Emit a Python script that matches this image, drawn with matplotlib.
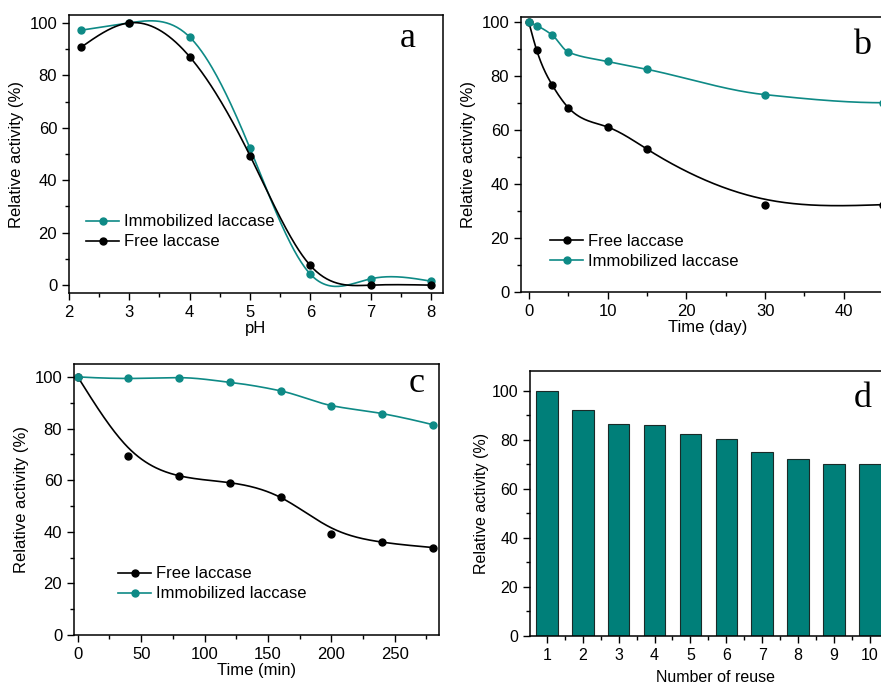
import numpy as np
import matplotlib
matplotlib.use("Agg")
import matplotlib.pyplot as plt
from matplotlib.ticker import AutoMinorLocator, MultipleLocator

plt.rcParams['font.family'] = ['Liberation Sans', 'DejaVu Sans']

TEAL = '#0e8a86'
BAR_TEAL = '#007f79'

# (a) pH
ph = [2.2, 3, 4, 5, 6, 7, 8]
ph_immob = [97.2, 100, 94.6, 52.2, 4.2, 2.4, 1.5]
ph_free = [90.7, 100, 87.1, 49.4, 7.5, 0.0, 0.0]

# (b) storage, days
days = [0, 1, 3, 5, 10, 15, 30, 45]
day_free = [100, 89.6, 76.6, 68.4, 61.2, 53.0, 32.1, 32.4]
day_immob = [100, 98.8, 95.2, 89.0, 85.5, 82.6, 73.2, 70.2]

# (c) thermal, minutes
mins = [0, 40, 80, 120, 160, 200, 240, 280]
min_free = [100, 69.4, 61.7, 59.0, 53.3, 39.0, 36.0, 33.9]
min_immob = [100, 99.4, 99.7, 97.9, 94.6, 88.9, 85.8, 81.5]

# (d) reuse
reuse = [1, 2, 3, 4, 5, 6, 7, 8, 9, 10]
reuse_act = [100, 92.0, 86.5, 85.8, 82.5, 80.3, 75.0, 72.3, 70.3, 70.0]


def natural_spline(x, y, n=300):
    x = np.asarray(x, float)
    y = np.asarray(y, float)
    k = len(x)
    h = np.diff(x)
    A = np.zeros((k, k))
    b = np.zeros(k)
    A[0, 0] = A[-1, -1] = 1
    for i in range(1, k - 1):
        A[i, i - 1] = h[i - 1]
        A[i, i] = 2 * (h[i - 1] + h[i])
        A[i, i + 1] = h[i]
        b[i] = 3 * ((y[i + 1] - y[i]) / h[i] - (y[i] - y[i - 1]) / h[i - 1])
    c = np.linalg.solve(A, b)
    xs = np.linspace(x[0], x[-1], n)
    idx = np.clip(np.searchsorted(x, xs) - 1, 0, k - 2)
    dx = xs - x[idx]
    hi = h[idx]
    bb = (y[idx + 1] - y[idx]) / hi - hi * (2 * c[idx] + c[idx + 1]) / 3
    dd = (c[idx + 1] - c[idx]) / (3 * hi)
    return xs, y[idx] + bb * dx + c[idx] * dx ** 2 + dd * dx ** 3


def smoothing_spline(x, y, lam, loose):
    # weighted Reinsch smoothing; points listed in `loose` are allowed to drift
    x = np.asarray(x, float)
    y = np.asarray(y, float)
    n = len(x)
    h = np.diff(x)
    Q = np.zeros((n, n - 2))
    R = np.zeros((n - 2, n - 2))
    for j in range(n - 2):
        Q[j, j] = 1 / h[j]
        Q[j + 1, j] = -1 / h[j] - 1 / h[j + 1]
        Q[j + 2, j] = 1 / h[j + 1]
        R[j, j] = (h[j] + h[j + 1]) / 3
        if j < n - 3:
            R[j, j + 1] = R[j + 1, j] = h[j + 1] / 6
    K = Q @ np.linalg.solve(R, Q.T)
    w = np.full(n, 1e5)
    w[loose] = 1.0
    g = np.linalg.solve(np.diag(w) + lam * K, w * y)
    return natural_spline(x, g)


def pchip(x, y, n=300):
    x = np.asarray(x, float)
    y = np.asarray(y, float)
    h = np.diff(x)
    delta = np.diff(y) / h
    k = len(x)
    d = np.zeros(k)
    for i in range(1, k - 1):
        if delta[i - 1] * delta[i] > 0:
            w1 = 2 * h[i] + h[i - 1]
            w2 = h[i] + 2 * h[i - 1]
            d[i] = (w1 + w2) / (w1 / delta[i - 1] + w2 / delta[i])

    def end(h0, h1, d0, d1):
        s = ((2 * h0 + h1) * d0 - h0 * d1) / (h0 + h1)
        if np.sign(s) != np.sign(d0):
            s = 0
        elif np.sign(d0) != np.sign(d1) and abs(s) > abs(3 * d0):
            s = 3 * d0
        return s

    d[0] = end(h[0], h[1], delta[0], delta[1])
    d[-1] = end(h[-1], h[-2], delta[-1], delta[-2])
    xs = np.linspace(x[0], x[-1], n)
    idx = np.clip(np.searchsorted(x, xs) - 1, 0, k - 2)
    t = (xs - x[idx]) / h[idx]
    h00 = 2 * t ** 3 - 3 * t ** 2 + 1
    h10 = t ** 3 - 2 * t ** 2 + t
    h01 = -2 * t ** 3 + 3 * t ** 2
    h11 = t ** 3 - t ** 2
    ys = h00 * y[idx] + h10 * h[idx] * d[idx] + h01 * y[idx + 1] + h11 * h[idx] * d[idx + 1]
    return xs, ys


def style(ax, fs=12):
    ax.tick_params(which='both', direction='out', top=False, right=False, labelsize=fs)
    ax.tick_params(which='major', length=5, width=1)
    ax.tick_params(which='minor', length=3, width=1)
    for s in ax.spines.values():
        s.set_linewidth(1.1)
    ax.yaxis.set_minor_locator(AutoMinorLocator(2))
    ax.xaxis.set_minor_locator(AutoMinorLocator(2))


def curve(ax, x, y, color, label, smooth):
    xs, ys = smooth(x, y)
    ax.plot(xs, ys, color=color, lw=1.2)
    ax.plot(x, y, 'o', color=color, ms=5)
    ax.plot([], [], '-o', color=color, lw=1.2, ms=5, label=label)


W, H = 881, 684
fig = plt.figure(figsize=(W / 100, H / 100), dpi=100)


def box(l, t, r, b):
    return [l / W, 1 - b / H, (r - l) / W, (b - t) / H]


def legend(ax, x, y):
    ax.legend(loc='center left', bbox_to_anchor=(x / W, 1 - y / H), bbox_transform=fig.transFigure,
              frameon=False, fontsize=12, handlelength=2.0, handletextpad=0.3,
              borderaxespad=0, borderpad=0, labelspacing=0.3)


def letter(s, x, y):
    fig.text(x / W, 1 - y / H, s, ha='center', va='baseline', fontsize=26, family='Liberation Serif')


# panel a
ax = fig.add_axes(box(69, 15, 443, 293))
curve(ax, ph, ph_immob, TEAL, 'Immobilized laccase', natural_spline)
curve(ax, ph, ph_free, 'black', 'Free laccase', natural_spline)
ax.set_xlim(2, 8.2)
ax.set_ylim(-3, 103)
ax.xaxis.set_major_locator(MultipleLocator(1))
ax.yaxis.set_major_locator(MultipleLocator(20))
style(ax)
ax.set_xlabel('pH', fontsize=12, labelpad=1)
ax.set_ylabel('Relative activity (%)', fontsize=12)
legend(ax, 86, 232)
letter('a', 408, 47)

# panel b
ax = fig.add_axes(box(521, 17, 895, 292))
curve(ax, days, day_free, 'black', 'Free laccase',
      lambda x, y: smoothing_spline(x, y, 300, [6]))
curve(ax, days, day_immob, TEAL, 'Immobilized laccase', pchip)
ax.set_xlim(-1, 46.5)
ax.set_ylim(0, 102)
ax.xaxis.set_major_locator(MultipleLocator(10))
ax.yaxis.set_major_locator(MultipleLocator(20))
style(ax)
ax.set_xlabel('Time (day)', fontsize=12, labelpad=1)
ax.set_ylabel('Relative activity (%)', fontsize=12)
legend(ax, 550, 251)
letter('b', 862, 54)

# panel c
ax = fig.add_axes(box(74, 364, 439, 635))
curve(ax, mins, min_free, 'black', 'Free laccase',
      lambda x, y: smoothing_spline(x, y, 5000, [1, 5]))
curve(ax, mins, min_immob, TEAL, 'Immobilized laccase', pchip)
ax.set_xlim(-3, 285)
ax.set_ylim(0, 105)
ax.xaxis.set_major_locator(MultipleLocator(50))
ax.yaxis.set_major_locator(MultipleLocator(20))
style(ax)
ax.set_xlabel('Time (min)', fontsize=12, labelpad=1)
ax.set_ylabel('Relative activity (%)', fontsize=12)
legend(ax, 118, 584)
letter('c', 417, 392)

# panel d
ax = fig.add_axes(box(530, 371, 900, 636))
ax.bar(reuse, reuse_act, width=0.6, color=BAR_TEAL, edgecolor='#1a2a28', linewidth=0.8)
ax.set_xlim(0.53, 10.84)
ax.set_ylim(0, 108)
ax.xaxis.set_major_locator(MultipleLocator(1))
ax.yaxis.set_major_locator(MultipleLocator(20))
style(ax, fs=11.5)
ax.set_xlabel('Number of reuse', fontsize=11.5, labelpad=5)
ax.set_ylabel('Relative activity (%)', fontsize=11.5, labelpad=2)
letter('d', 863, 407)

fig.savefig('out.png', dpi=100)
